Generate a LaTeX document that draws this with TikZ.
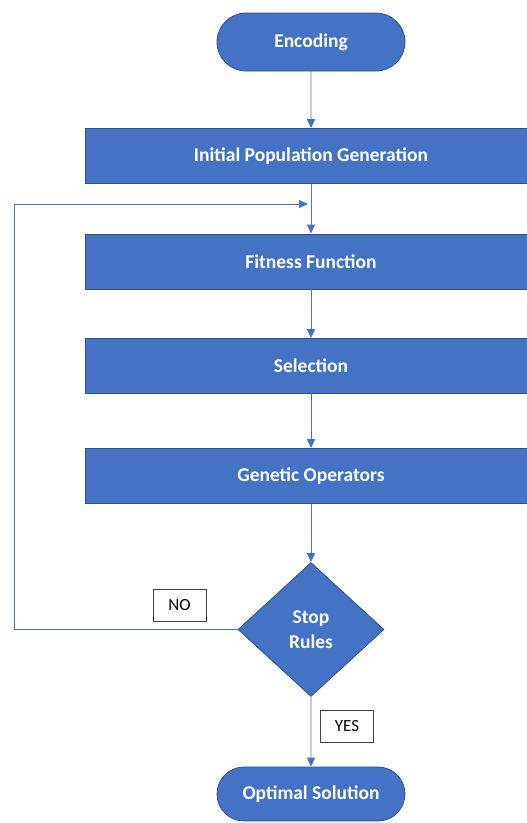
\documentclass[tikz,border=0pt]{standalone}
\usepackage{fontspec}
\setmainfont{Carlito}
\usetikzlibrary{shapes.geometric,shapes.misc,arrows.meta}
\definecolor{boxblue}{HTML}{4472C4}
\definecolor{boxedge}{HTML}{2F528F}
\tikzset{
  base/.style={fill=boxblue, draw=boxedge, line width=0.8pt, text=white,
    font=\bfseries\fontsize{19.5}{22}\selectfont, inner sep=0pt},
  terminal/.style={base, rounded rectangle, minimum width=188pt, minimum height=58pt},
  process/.style={base, rectangle, minimum width=452pt, minimum height=55pt},
  decision/.style={base, diamond, minimum width=146pt, minimum height=134pt, align=center},
  tag/.style={draw=black!75, fill=white, line width=0.6pt, inner sep=0pt,
    minimum width=53pt, minimum height=32pt, font=\fontsize{17}{19}\selectfont},
  flow/.style={draw=boxblue, line width=0.9pt, -{Triangle[length=9pt,width=8pt]}},
}
\begin{document}
\begin{tikzpicture}[x=1pt,y=-1pt]
\useasboundingbox (0,0) rectangle (527,823);
\clip (0,0) rectangle (527,823);
\node[terminal] (enc) at (311,42) {Encoding};
\node[process] (init) at (311,156) {Initial Population Generation};
\node[process] (fit) at (311,261.5) {Fitness Function};
\node[process] (sel) at (311,366) {Selection};
\node[process] (gen) at (311,476) {Genetic Operators};
\node[decision] (stop) at (311,629.5) {Stop\\[3pt]Rules};
\node[terminal, minimum height=54pt] (opt) at (311,794) {Optimal Solution};
\node[tag] (no) at (179.5,605) {NO};
\node[tag] (yes) at (347,726.5) {YES};
\coordinate (loopin) at (311,204);
\draw[flow] (enc) -- (init);
\draw[flow] (init) -- (fit);
\draw[flow] (fit) -- (sel);
\draw[flow] (sel) -- (gen);
\draw[flow] (gen) -- (stop);
\draw[flow] (stop) -- (opt);
\draw[flow] (stop.west) -| (14,204) -- ([xshift=-3pt]loopin);
\end{tikzpicture}
\end{document}
